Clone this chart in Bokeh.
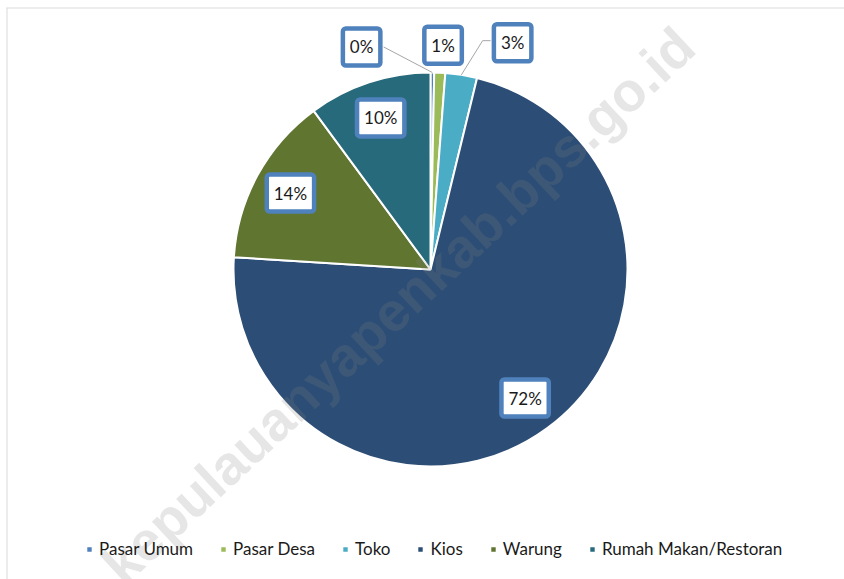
import numpy as np
from bokeh.plotting import figure
from bokeh.models import Range1d, ColumnDataSource, Legend, LegendItem, Span
from bokeh.core.properties import value
from bokeh.embed import file_html
from bokeh.resources import INLINE

# ---- data ----
categories = ["Pasar Umum", "Pasar Desa", "Toko", "Kios", "Warung", "Rumah Makan/Restoran"]
shares = [0.3, 0.9, 2.6, 72.2, 13.9, 10.1]
colors = ["#4F81BD", "#9BBB59", "#4BACC6", "#2C4D75", "#5F7530", "#276A7C"]
watermark = "kepulauanyapenkab.bps.go.id"

FONT = "Lato"
W, H = 844, 579
BL, BT = 6, 7
FW, FH = W - BL, H - BT
p = figure(width=W, height=H, x_range=Range1d(0, FW), y_range=Range1d(0, FH),
           output_backend="svg", toolbar_location=None,
           x_axis_location=None, y_axis_location=None,
           min_border_left=BL, min_border_top=BT, min_border_right=0, min_border_bottom=0)
p.grid.visible = False
p.outline_line_color = None
p.background_fill_color = "white"
p.border_fill_color = "white"

# chart-area border (left and top edges visible in the reference)
p.add_layout(Span(location=0, dimension="height", line_color="#d9d9d9", line_width=2))
p.add_layout(Span(location=FH, dimension="width", line_color="#d9d9d9", line_width=2))

cx, cy, r = 424, 310, 197
vals = np.array(shares, dtype=float)
frac = vals / vals.sum()
cum = np.concatenate([[0.0], np.cumsum(frac)])
start = np.pi / 2 - 2 * np.pi * cum[1:]
end = np.pi / 2 - 2 * np.pi * cum[:-1]
mid = (start + end) / 2

src = ColumnDataSource(dict(cat=categories, start=start, end=end, color=colors))
wedges = p.wedge(x=cx, y=cy, radius=r, start_angle="start", end_angle="end",
                 fill_color="color", line_color="white", line_width=2, source=src)

# watermark
p.text(x=[cx - 32], y=[cy - 36], text=[watermark], angle=np.deg2rad(43),
       text_font=value("Liberation Sans"), text_font_style="bold", text_font_size="55px",
       text_align="center", text_baseline="middle", text_color="#808080", text_alpha=0.2)

# data labels
labels = [f"{round(v)}%" for v in shares]
inside = frac >= 0.05
out_idx = [i for i in range(len(vals)) if not inside[i]]
out_shift = [-71, 2, 47]
out_lift = [-2, 0, 5]

lx, ly = [], []
lead_xs, lead_ys = [], []
half_w = 22
for i in range(len(vals)):
    if inside[i]:
        lx.append(cx + 0.81 * r * np.cos(mid[i]))
        ly.append(cy + 0.81 * r * np.sin(mid[i]))
    else:
        k = out_idx.index(i)
        x0 = cx + 1.14 * r * np.cos(mid[i]) + out_shift[k]
        y0 = cy + 1.14 * r * np.sin(mid[i]) + out_lift[k]
        lx.append(x0)
        ly.append(y0)
        ex, ey = cx + r * np.cos(mid[i]), cy + r * np.sin(mid[i])
        if x0 + half_w < ex:
            lead_xs.append([x0 + half_w, ex])
            lead_ys.append([y0, ey])
        elif x0 - half_w > ex + 15:
            lead_xs.append([x0 - half_w, x0 - half_w - 8, ex])
            lead_ys.append([y0 + 2, y0 + 2, ey])

p.multi_line(xs=lead_xs, ys=lead_ys, line_color="#a6a6a6", line_width=1)

p.text(x=lx, y=ly, text=labels, text_font=value(FONT), text_font_size="17px",
       text_align="center", text_baseline="middle", text_color="#1a1a1a",
       background_fill_color="white", border_line_color="#4F81BD",
       border_line_width=4.5, padding=(7, 8), border_radius=3)

items = [LegendItem(label=c, renderers=[wedges], index=i) for i, c in enumerate(categories)]
legend = Legend(items=items, orientation="horizontal", location=(79, 20),
                label_text_font=FONT, label_text_font_size="17px", label_text_color="#1a1a1a",
                glyph_width=8, glyph_height=8, label_standoff=6, spacing=26,
                padding=0, margin=0, border_line_color=None, background_fill_alpha=0)
p.add_layout(legend)

open("out.html", "w").write(file_html(p, INLINE))
